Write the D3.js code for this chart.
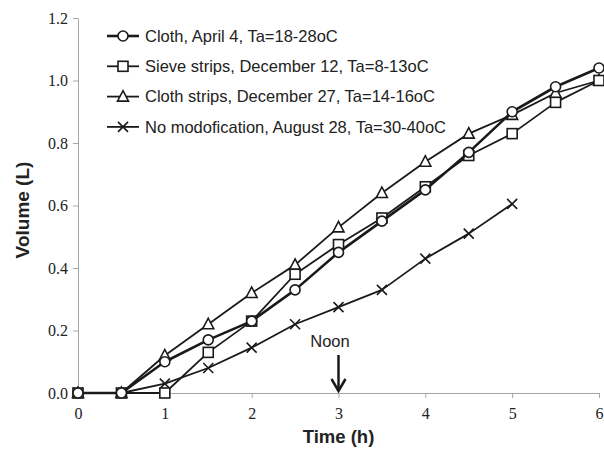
<!DOCTYPE html>
<html>
<head>
<meta charset="utf-8">
<script src="https://cdn.jsdelivr.net/npm/d3@7"></script>
<style>
  body { margin: 0; background: #fff; }
  svg { display: block; }
</style>
</head>
<body>
<div id="chart"></div>
<script>
const hours = [0, 0.5, 1, 1.5, 2, 2.5, 3, 3.5, 4, 4.5, 5, 5.5, 6];
const clothVals = [0, 0, 0.10, 0.17, 0.23, 0.33, 0.45, 0.55, 0.65, 0.77, 0.90, 0.98, 1.04];
const sieveVals = [0, 0, 0, 0.13, 0.23, 0.38, 0.475, 0.56, 0.66, 0.76, 0.83, 0.93, 1.00];
const stripVals = [0, 0, 0.12, 0.22, 0.32, 0.41, 0.53, 0.64, 0.74, 0.83, 0.89, 0.96, 1.00];
const noModVals = [0, 0, 0.03, 0.08, 0.145, 0.22, 0.275, 0.33, 0.43, 0.51, 0.605];
const seriesNames = [
  'Cloth, April 4, Ta=18-28oC',
  'Sieve strips, December 12, Ta=8-13oC',
  'Cloth strips, December 27, Ta=14-16oC',
  'No modofication, August 28, Ta=30-40oC'
];
const xTicks = [0, 1, 2, 3, 4, 5, 6];
const yTicks = [0, 0.2, 0.4, 0.6, 0.8, 1.0, 1.2];

const W = 604, H = 449;
const svg = d3.select('#chart').append('svg').attr('width', W).attr('height', H);

const x = d3.scaleLinear().domain([0, 6]).range([78, 599]);
const y = d3.scaleLinear().domain([0, 1.2]).range([393, 18]);

const series = [
  { name: seriesNames[0], vals: clothVals, marker: 'circle', width: 2.6 },
  { name: seriesNames[1], vals: sieveVals, marker: 'square', width: 1.8 },
  { name: seriesNames[2], vals: stripVals, marker: 'triangle', width: 1.8 },
  { name: seriesNames[3], vals: noModVals, marker: 'cross', width: 1.8 }
];

const sans = '"Liberation Sans", Arial, sans-serif';
const serif = '"Liberation Serif", "Times New Roman", serif';

// axes
const grey = '#a6a6a6';
const xAxis = svg.append('g')
  .attr('transform', `translate(0,${y(0)})`)
  .call(d3.axisBottom(x).tickValues(xTicks).tickSize(5).tickSizeOuter(0).tickFormat(d3.format('d')));
const yAxis = svg.append('g')
  .attr('transform', `translate(${x(0)},0)`)
  .call(d3.axisLeft(y).tickValues(yTicks).tickSize(5).tickSizeOuter(0).tickFormat(d3.format('.1f')));
[xAxis, yAxis].forEach(a => {
  a.attr('font-family', serif).attr('font-size', 16);
  a.select('.domain').attr('stroke', grey);
  a.selectAll('.tick line').attr('stroke', grey);
  a.selectAll('.tick text').attr('fill', '#222');
});
xAxis.selectAll('.tick text').attr('dy', '0.95em').attr('y', 11);
yAxis.selectAll('.tick text').attr('x', -10);

svg.append('text')
  .attr('x', x(3)).attr('y', 443)
  .attr('text-anchor', 'middle')
  .attr('font-family', sans)
  .attr('font-weight', 'bold').attr('font-size', 18.5).attr('fill', '#222')
  .text('Time (h)');

svg.append('text')
  .attr('transform', `translate(29,210) rotate(-90)`)
  .attr('text-anchor', 'middle')
  .attr('font-family', sans)
  .attr('font-weight', 'bold').attr('font-size', 19).attr('fill', '#222')
  .text('Volume (L)');

// marker drawing
function drawMarker(g, type, cx, cy) {
  const s = 5;
  if (type === 'circle') {
    g.append('circle').attr('cx', cx).attr('cy', cy).attr('r', s)
      .attr('fill', '#fff').attr('stroke', '#1a1a1a').attr('stroke-width', 1.6);
  } else if (type === 'square') {
    g.append('rect').attr('x', cx - s).attr('y', cy - s).attr('width', 2 * s).attr('height', 2 * s)
      .attr('fill', '#fff').attr('stroke', '#1a1a1a').attr('stroke-width', 1.6);
  } else if (type === 'triangle') {
    g.append('path')
      .attr('d', `M${cx},${cy - s - 1}L${cx + s + 0.5},${cy + s - 0.5}L${cx - s - 0.5},${cy + s - 0.5}Z`)
      .attr('fill', '#fff').attr('stroke', '#1a1a1a').attr('stroke-width', 1.6);
  } else {
    g.append('path')
      .attr('d', `M${cx - s},${cy - s}L${cx + s},${cy + s}M${cx - s},${cy + s}L${cx + s},${cy - s}`)
      .attr('stroke', '#1a1a1a').attr('stroke-width', 1.6);
  }
}

const line = d3.line().x(d => x(d[0])).y(d => y(d[1]));

// draw in reverse so cloth is on top
series.slice().reverse().forEach(s => {
  const pts = s.vals.map((v, i) => [hours[i], v]);
  const g = svg.append('g');
  g.append('path').datum(pts).attr('d', line)
    .attr('fill', 'none').attr('stroke', '#1a1a1a').attr('stroke-width', s.width)
    .attr('stroke-linejoin', 'round');
  pts.forEach(p => drawMarker(g, s.marker, x(p[0]), y(p[1])));
});

// legend
const legend = svg.append('g');
series.forEach((s, i) => {
  const ly = 36 + i * 30.3;
  legend.append('line').attr('x1', 107).attr('x2', 139).attr('y1', ly).attr('y2', ly)
    .attr('stroke', '#1a1a1a').attr('stroke-width', s.width);
  drawMarker(legend, s.marker, 123, ly);
  legend.append('text').attr('x', 145).attr('y', ly).attr('dy', '0.35em')
    .attr('font-family', sans)
    .attr('font-size', 16.5).attr('fill', '#222')
    .text(s.name);
});

// noon annotation
svg.append('text').attr('x', 330).attr('y', 347).attr('text-anchor', 'middle')
  .attr('font-family', sans)
  .attr('font-size', 16.5).attr('fill', '#222').text('Noon');
const ax = x(3);
svg.append('line').attr('x1', ax).attr('x2', ax).attr('y1', 355).attr('y2', 391)
  .attr('stroke', '#1a1a1a').attr('stroke-width', 2.5);
svg.append('path').attr('d', `M${ax - 7},${y(0) - 14}L${ax},${y(0) - 2}L${ax + 7},${y(0) - 14}`)
  .attr('fill', 'none').attr('stroke', '#1a1a1a').attr('stroke-width', 2.5);
</script>
</body>
</html>
